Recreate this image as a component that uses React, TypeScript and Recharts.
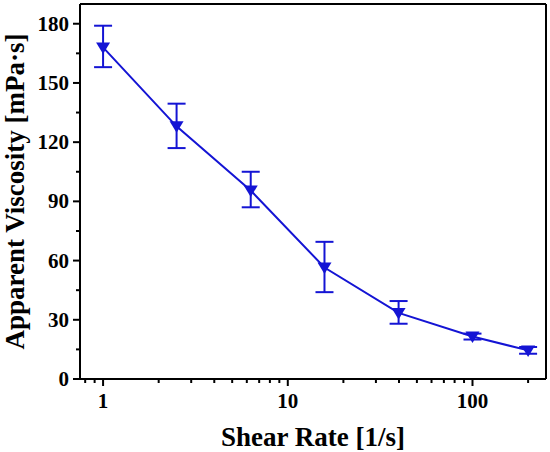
import React from 'react';
import { LineChart, Line, XAxis, YAxis, ErrorBar, ReferenceLine } from 'recharts';

// shear rate [1/s]
const shearRates = [1, 2.5, 6.3, 15.8, 39.8, 100, 200];
// apparent viscosity [mPa·s]
const viscosity = [168, 128, 95.5, 56.5, 33.5, 21.5, 14.5];
const errLow = [10, 11, 8.5, 12.5, 5.5, 1.5, 1.7];
const errHigh = [11, 11.5, 9.5, 13, 6, 1.5, 1.7];

const xMajorTicks = [1, 10, 100];
const xMinorTicks = [0.8, 0.9, 2, 3, 4, 5, 6, 7, 8, 9, 20, 30, 40, 50, 60, 70, 80, 90, 200];
const yMajorTicks = [0, 30, 60, 90, 120, 150, 180];
const yMinorTicks = [15, 45, 75, 105, 135, 165];

const BLUE = '#1414d4';
const FONT = '"Liberation Serif", "Times New Roman", serif';
const tickStyle = { fontFamily: FONT, fontWeight: 'bold' as const, fontSize: 21 };

const data = shearRates.map((x, i) => ({
    x,
    y: viscosity[i],
    err: [errLow[i], errHigh[i]],
}));

const XTick = ({ x, y, payload }: any) => {
    const major = xMajorTicks.includes(payload.value);
    return (
        <g>
            <line x1={x} x2={x} y1={y} y2={y + (major ? 7 : 4)} stroke="#000" strokeWidth={2} />
            {major && (
                <text x={x} y={y + 29} textAnchor="middle" style={tickStyle} fill="#000">
                    {payload.value}
                </text>
            )}
        </g>
    );
};

const YTick = ({ x, y, payload }: any) => {
    const major = yMajorTicks.includes(payload.value);
    return (
        <g>
            <line x1={x} x2={x - (major ? 7 : 4)} y1={y} y2={y} stroke="#000" strokeWidth={2} />
            {major && (
                <text x={x - 11} y={y + 7} textAnchor="end" style={tickStyle} fill="#000">
                    {payload.value}
                </text>
            )}
        </g>
    );
};

const TriangleDot = ({ cx, cy }: any) => {
    if (cx == null || cy == null) return null;
    return <path d={`M${cx - 7},${cy - 5} L${cx + 7},${cy - 5} L${cx},${cy + 6.5} Z`} fill={BLUE} />;
};

export default function App() {
    return (
        <div style={{ position: 'absolute', left: 0, top: 0, width: 550, height: 452, background: '#fff' }}>
            <LineChart width={550} height={452} data={data} margin={{ top: 4, right: 4, left: 0, bottom: 0 }}>
                <XAxis
                    dataKey="x"
                    type="number"
                    scale="log"
                    domain={[0.75, 250]}
                    allowDataOverflow
                    ticks={[...xMajorTicks, ...xMinorTicks].sort((a, b) => a - b)}
                    interval={0}
                    tick={<XTick />}
                    tickLine={false}
                    tickSize={0}
                    tickMargin={0}
                    axisLine={{ stroke: '#000', strokeWidth: 2 }}
                    height={73}
                    label={{
                        value: 'Shear Rate [1/s]',
                        position: 'insideBottom',
                        offset: 6,
                        fontFamily: FONT,
                        fontWeight: 'bold',
                        fontSize: 27,
                        fill: '#000',
                    }}
                />
                <YAxis
                    type="number"
                    domain={[0, 190]}
                    allowDataOverflow
                    ticks={[...yMajorTicks, ...yMinorTicks].sort((a, b) => a - b)}
                    interval={0}
                    tick={<YTick />}
                    tickLine={false}
                    tickSize={0}
                    tickMargin={0}
                    axisLine={{ stroke: '#000', strokeWidth: 2 }}
                    width={80}
                    label={{
                        value: 'Apparent Viscosity [mPa·s]',
                        angle: -90,
                        position: 'insideLeft',
                        offset: 0,
                        dx: 14,
                        fontFamily: FONT,
                        fontWeight: 'bold',
                        fontSize: 27,
                        fill: '#000',
                        style: { textAnchor: 'middle' },
                    }}
                />
                <ReferenceLine y={190} stroke="#000" strokeWidth={2} />
                <ReferenceLine x={250} stroke="#000" strokeWidth={2} />
                <Line
                    dataKey="y"
                    stroke={BLUE}
                    strokeWidth={2}
                    type="linear"
                    dot={<TriangleDot />}
                    activeDot={false}
                    isAnimationActive={false}
                >
                    <ErrorBar dataKey="err" width={9} stroke={BLUE} strokeWidth={2} direction="y" />
                </Line>
            </LineChart>
        </div>
    );
}
